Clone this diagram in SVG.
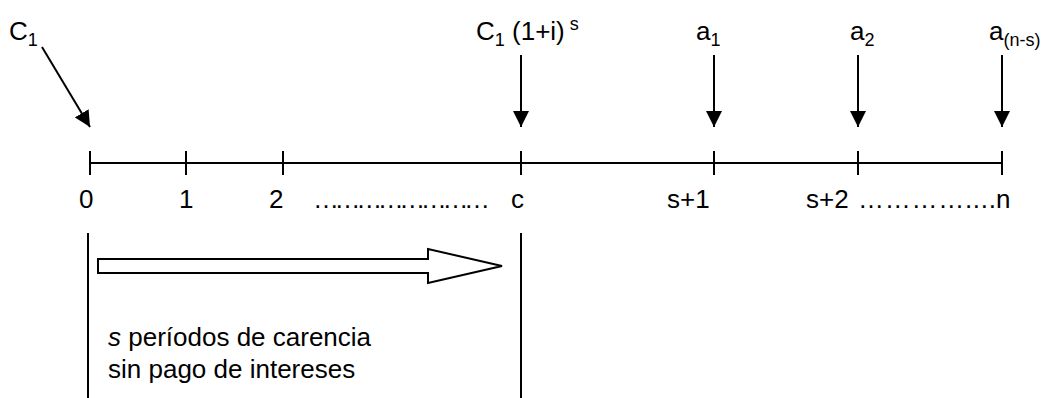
<svg xmlns="http://www.w3.org/2000/svg" width="1048" height="398" viewBox="0 0 1048 398">
  <style>
    text { font-family: "Liberation Sans", Arial, sans-serif; fill: #000; }
    .lbl { font-size: 26px; }
    .sub { font-size: 18px; }
    .note { font-size: 26px; }
    .ln { stroke: #000; stroke-width: 2; fill: none; }
  </style>
  <defs>
    <marker id="head" viewBox="0 0 16 16" refX="16" refY="8" markerWidth="16" markerHeight="16" markerUnits="userSpaceOnUse" orient="auto">
      <path d="M0,0 L16,8 L0,16 Z" fill="#000"/>
    </marker>
  </defs>

  <!-- time axis with period ticks -->
  <g id="axis">
    <line class="ln" x1="90" y1="163" x2="1002" y2="163"/>
    <line class="ln" x1="90" y1="151" x2="90" y2="175"/>
    <line class="ln" x1="186" y1="151" x2="186" y2="175"/>
    <line class="ln" x1="283" y1="151" x2="283" y2="175"/>
    <line class="ln" x1="521" y1="151" x2="521" y2="175"/>
    <line class="ln" x1="714" y1="151" x2="714" y2="175"/>
    <line class="ln" x1="858" y1="151" x2="858" y2="175"/>
    <line class="ln" x1="1002" y1="151" x2="1002" y2="175"/>
  </g>

  <!-- period labels -->
  <g id="period-labels">
    <text class="lbl" x="79" y="208">0</text>
    <text class="lbl" x="179" y="208">1</text>
    <text class="lbl" x="269" y="208">2</text>
    <text class="lbl" x="313" y="208" textLength="177" lengthAdjust="spacing">……………………</text>
    <text class="lbl" x="511" y="208">c</text>
    <text class="lbl" x="667" y="208">s+1</text>
    <text class="lbl" x="806" y="208">s+2</text>
    <text class="lbl" x="858" y="208" textLength="138" lengthAdjust="spacing">…………....</text>
    <text class="lbl" x="996" y="208">n</text>
  </g>

  <!-- cash-flow labels -->
  <g id="c1">
    <text class="lbl" x="9" y="40">C<tspan class="sub" dy="6">1</tspan></text>
  </g>
  <g id="c1-capitalised">
    <text class="lbl" x="476" y="40">C<tspan class="sub" dy="6">1</tspan><tspan dy="-6"> (1+i)</tspan><tspan class="sub" dy="-10"> s</tspan></text>
  </g>
  <g id="a1">
    <text class="lbl" x="696" y="40">a<tspan class="sub" dy="6">1</tspan></text>
  </g>
  <g id="a2">
    <text class="lbl" x="850" y="40">a<tspan class="sub" dy="6">2</tspan></text>
  </g>
  <g id="an-s">
    <text class="lbl" x="989" y="40">a<tspan class="sub" dy="6">(n-s)</tspan></text>
  </g>

  <!-- connectors -->
  <g id="connectors">
    <line class="ln" x1="42" y1="47" x2="90" y2="127" marker-end="url(#head)"/>
    <line class="ln" x1="521" y1="55" x2="521" y2="127" marker-end="url(#head)"/>
    <line class="ln" x1="714" y1="55" x2="714" y2="127" marker-end="url(#head)"/>
    <line class="ln" x1="858" y1="55" x2="858" y2="127" marker-end="url(#head)"/>
    <line class="ln" x1="1002" y1="55" x2="1002" y2="127" marker-end="url(#head)"/>
  </g>

  <!-- grace-period span -->
  <g id="grace-period">
    <line class="ln" x1="88" y1="233" x2="88" y2="398"/>
    <line class="ln" x1="521" y1="233" x2="521" y2="398"/>
    <path class="ln" d="M98,259 H428 V249 L502,266 L428,283 V273 H98 Z"/>
    <text class="note" x="108" y="346"><tspan font-style="italic">s</tspan> períodos de carencia</text>
    <text class="note" x="108" y="378">sin pago de intereses</text>
  </g>
</svg>
